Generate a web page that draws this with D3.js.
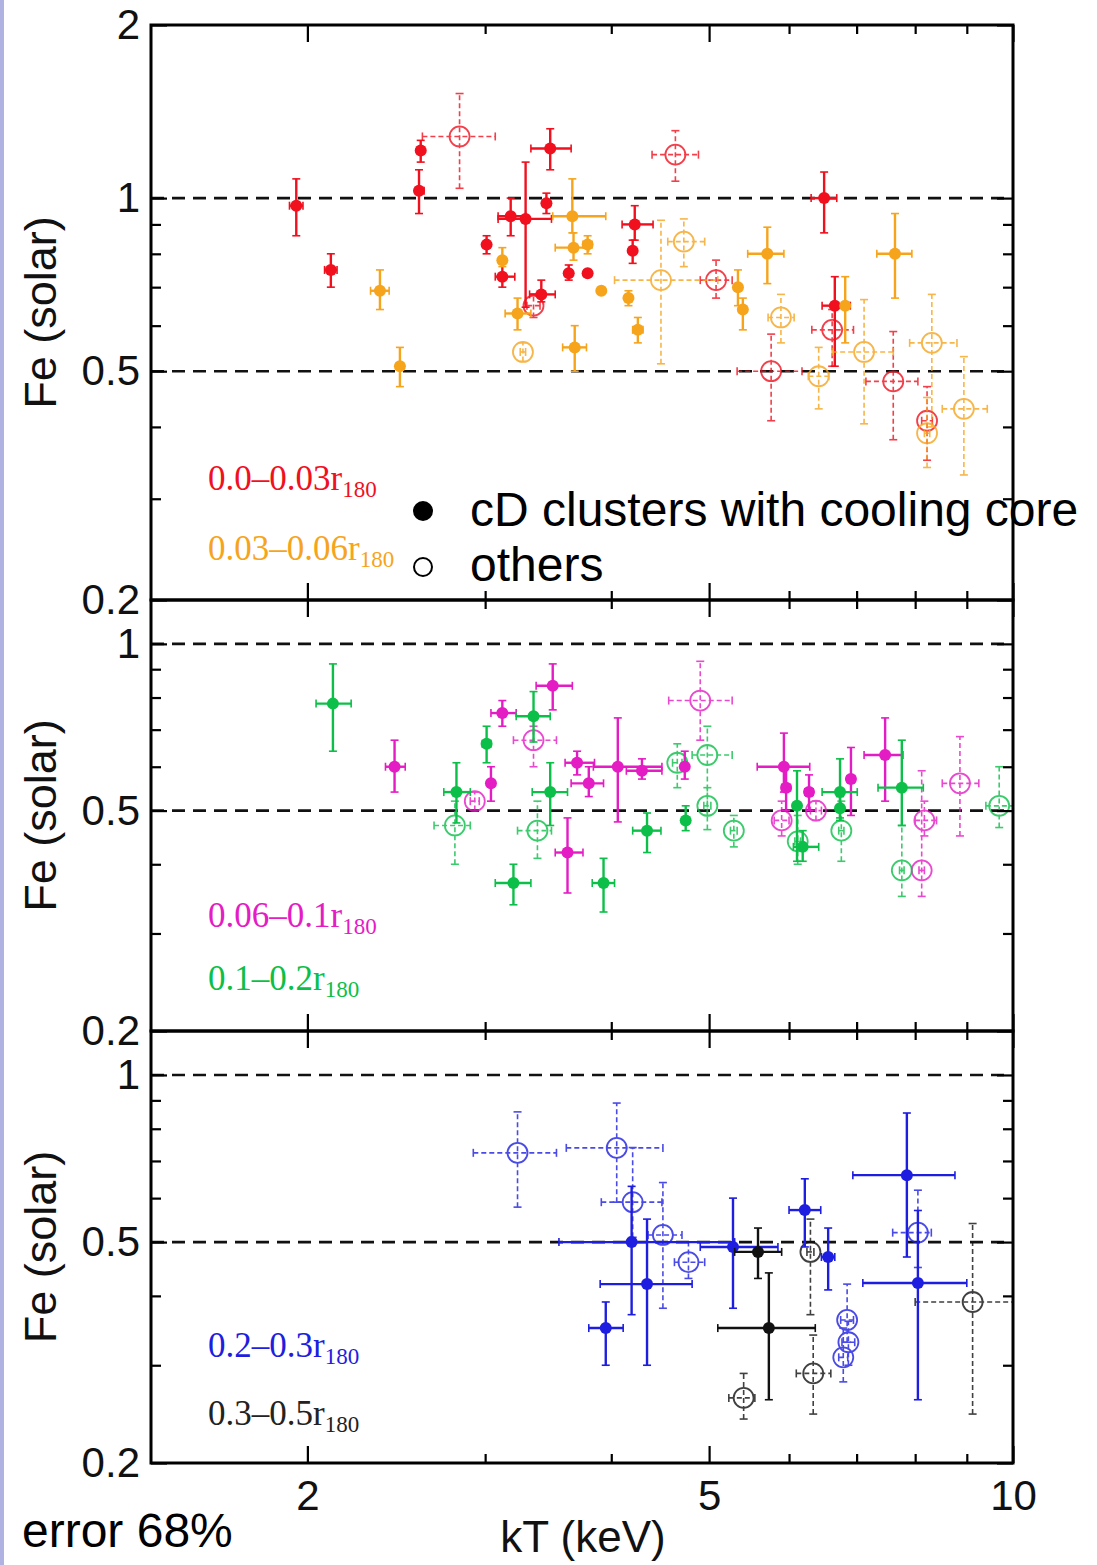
<!DOCTYPE html>
<html><head><meta charset="utf-8">
<script src="https://cdn.jsdelivr.net/npm/d3@7"></script>
<style>body{margin:0;background:#fff}svg{display:block}</style>
</head><body>
<svg id="c" width="1097" height="1565"></svg>
<script>
// ---------- DATA: [kT, kTmin, kTmax, Fe, FeMin, FeMax] ----------
const red_cD = [
 [1.95,1.92,1.98,0.97,0.86,1.08],[2.11,2.08,2.14,0.75,0.70,0.80],[2.58,2.56,2.61,1.03,0.94,1.12],
 [2.59,2.57,2.61,1.21,1.155,1.26],[3.48,3.33,3.65,1.22,1.12,1.32],[3.01,2.99,3.03,0.83,0.80,0.86],
 [3.18,3.09,3.29,0.93,0.86,1.00],[3.29,3.09,3.49,0.92,0.646,1.155],[3.45,3.43,3.47,0.98,0.94,1.02],
 [3.12,3.07,3.21,0.73,0.70,0.77],[3.41,3.32,3.52,0.68,0.66,0.72],[3.63,3.61,3.65,0.74,0.72,0.765],
 [3.79,3.79,3.79,0.74,0.74,0.74],[4.22,4.10,4.40,0.90,0.845,0.97],[4.20,4.18,4.22,0.81,0.77,0.845],
 [6.50,6.31,6.69,1.00,0.87,1.11],[6.66,6.47,6.90,0.65,0.51,0.73]
];
const red_other = [
 [2.83,2.60,3.07,1.28,1.04,1.52],[3.35,3.30,3.40,0.65,0.62,0.68],[5.08,4.90,5.27,0.72,0.67,0.78],
 [4.63,4.39,4.88,1.19,1.07,1.31],[6.62,6.32,6.95,0.59,0.51,0.64],[5.76,5.33,6.18,0.50,0.41,0.58],
 [7.61,7.15,8.05,0.48,0.38,0.586],[8.22,8.12,8.32,0.41,0.35,0.47]
];
const orange_cD = [
 [2.36,2.31,2.41,0.69,0.64,0.75],[2.47,2.45,2.49,0.51,0.47,0.55],[3.12,3.10,3.14,0.78,0.76,0.82],
 [3.23,3.14,3.33,0.63,0.59,0.67],[3.66,3.50,3.95,0.93,0.87,1.08],[3.67,3.52,3.80,0.82,0.78,0.87],
 [3.79,3.75,3.83,0.83,0.80,0.86],[3.68,3.58,3.78,0.55,0.50,0.60],[3.91,3.91,3.91,0.69,0.69,0.69],
 [4.16,4.14,4.18,0.67,0.65,0.69],[4.25,4.20,4.30,0.59,0.56,0.62],[5.34,5.30,5.38,0.70,0.65,0.75],
 [5.40,5.37,5.43,0.64,0.59,0.67],[5.71,5.46,5.93,0.80,0.71,0.89],[7.64,7.33,7.94,0.80,0.67,0.94],
 [6.82,6.80,6.84,0.65,0.56,0.73]
];
const orange_other = [
 [3.27,3.25,3.29,0.54,0.52,0.56],[4.48,4.03,5.10,0.72,0.515,0.915],[4.72,4.55,4.95,0.84,0.76,0.92],
 [5.89,5.72,6.07,0.62,0.56,0.68],[6.42,6.27,6.57,0.49,0.43,0.55],[7.12,6.62,7.61,0.54,0.405,0.666],
 [8.31,7.90,8.80,0.56,0.40,0.68],[8.94,8.51,9.43,0.43,0.33,0.53],[8.22,8.17,8.27,0.39,0.34,0.45]
];
const magenta_cD = [
 [2.44,2.39,2.50,0.60,0.54,0.67],[3.04,3.02,3.06,0.56,0.52,0.60],[3.12,3.04,3.22,0.75,0.71,0.79],
 [3.50,3.37,3.66,0.84,0.76,0.92],[3.62,3.52,3.75,0.42,0.355,0.485],[3.70,3.60,3.85,0.61,0.58,0.64],
 [3.80,3.65,3.93,0.56,0.53,0.60],[4.06,3.84,4.49,0.60,0.477,0.735],[4.29,4.14,4.49,0.59,0.57,0.62],
 [4.73,4.70,4.76,0.60,0.57,0.64],[5.93,5.58,6.29,0.60,0.54,0.69],[5.96,5.90,6.02,0.55,0.50,0.60],
 [6.28,6.22,6.34,0.54,0.50,0.58],[6.91,6.85,6.97,0.57,0.49,0.65],[7.47,7.12,7.78,0.63,0.52,0.735]
];
const magenta_other = [
 [2.93,2.90,2.96,0.52,0.50,0.54],[3.35,3.20,3.53,0.67,0.60,0.71],[4.90,4.56,5.27,0.79,0.67,0.93],
 [8.86,8.51,9.25,0.56,0.45,0.68],[8.12,8.07,8.17,0.39,0.35,0.59],[8.17,8.00,8.40,0.48,0.45,0.52],
 [5.90,5.80,6.00,0.48,0.45,0.52],[6.38,6.30,6.46,0.50,0.48,0.52]
];
const green_cD = [
 [2.12,2.04,2.21,0.78,0.64,0.92],[2.81,2.73,2.90,0.54,0.475,0.61],[3.01,2.98,3.04,0.66,0.61,0.71],
 [3.35,3.22,3.48,0.74,0.665,0.82],[3.48,3.34,3.62,0.54,0.47,0.61],[3.20,3.07,3.33,0.37,0.338,0.40],
 [3.93,3.83,4.03,0.37,0.328,0.41],[4.34,4.20,4.48,0.46,0.42,0.495],[4.74,4.71,4.77,0.48,0.46,0.51],
 [6.11,6.08,6.14,0.51,0.405,0.59],[6.19,6.06,6.42,0.43,0.405,0.46],[6.74,6.47,7.01,0.54,0.485,0.62],
 [6.74,6.71,6.77,0.505,0.48,0.53],[7.76,7.35,8.15,0.55,0.47,0.67]
];
const green_other = [
 [2.80,2.67,2.90,0.47,0.40,0.52],[3.38,3.23,3.49,0.46,0.41,0.52],[4.98,4.81,5.27,0.63,0.462,0.71],
 [4.98,4.94,5.02,0.51,0.49,0.55],[4.65,4.60,4.70,0.61,0.55,0.66],[5.29,5.25,5.33,0.46,0.43,0.49],
 [6.76,6.72,6.80,0.46,0.405,0.52],[6.12,6.08,6.16,0.44,0.40,0.49],[7.76,7.72,7.80,0.39,0.35,0.47],
 [9.69,9.40,10.0,0.51,0.466,0.60]
];
const blue_cD = [
 [3.95,3.80,4.11,0.35,0.30,0.39],[4.19,3.55,5.30,0.50,0.37,0.63],[4.34,3.90,4.81,0.42,0.30,0.55],
 [5.28,4.90,5.85,0.49,0.38,0.60],[6.22,6.00,6.45,0.571,0.49,0.65],[6.56,6.46,6.66,0.47,0.41,0.53],
 [7.85,6.94,8.76,0.66,0.47,0.854],[8.05,7.10,9.00,0.422,0.26,0.57]
];
const blue_other = [
 [3.23,2.92,3.53,0.724,0.578,0.858],[4.05,3.61,4.50,0.739,0.59,0.89],[4.20,3.91,4.49,0.59,0.51,0.74],
 [4.50,4.35,4.70,0.515,0.38,0.64],[4.77,4.62,4.95,0.46,0.43,0.50],[6.85,6.75,6.95,0.362,0.33,0.42],
 [6.87,6.77,6.97,0.33,0.30,0.36],[6.79,6.72,6.86,0.31,0.28,0.35],[8.05,7.60,8.30,0.52,0.45,0.62]
];
const black_cD = [[5.59,5.30,5.90,0.48,0.43,0.53],[5.73,5.10,6.37,0.35,0.26,0.44]];
const black_other = [
 [5.41,5.23,5.55,0.262,0.24,0.29],[6.34,6.10,6.60,0.29,0.245,0.34],[6.30,6.25,6.35,0.48,0.37,0.55],
 [9.12,8.00,10.0,0.39,0.245,0.54]
];
const xMajorTicks = [2,5,10];
const xMinorTicks = [3,4,6,7,8,9];
const yMinorTicks = [0.3,0.4,0.6,0.7,0.8,0.9];
const refLines = [1,0.5];
const regionLabels = [["0.0–0.03r","180"],["0.03–0.06r","180"],["0.06–0.1r","180"],["0.1–0.2r","180"],["0.2–0.3r","180"],["0.3–0.5r","180"]];
const legendLabels = ["cD clusters with cooling core","others"];
const xTitle = "kT (keV)", yTitle = "Fe (solar)", errNote = "error 68%";

// ---------- DRAWING ----------
const C = {red:"#f0101e", orange:"#f6a41c", magenta:"#e41cc4", green:"#0cbf48", blue:"#1e1ee0", black:"#111"};
const svg = d3.select("#c");
svg.append("rect").attr("x",0).attr("y",0).attr("width",4).attr("height",1565).attr("fill","#b0b2e2");

const x = d3.scaleLog().domain([1.4,10]).range([151,1013]);
const panels = [
  {dom:[0.2,2], rng:[600,25], major:[2,1,0.5,0.2], series:[[red_cD,C.red,true],[red_other,C.red,false],[orange_cD,C.orange,true],[orange_other,C.orange,false]],
   labels:[[0,C.red,490],[1,C.orange,560]]},
  {dom:[0.2,1.2], rng:[1031,600], major:[1,0.5,0.2], series:[[magenta_other,C.magenta,false],[green_other,C.green,false],[magenta_cD,C.magenta,true],[green_cD,C.green,true]],
   labels:[[2,C.magenta,927],[3,C.green,990]]},
  {dom:[0.2,1.2], rng:[1463,1031], major:[1,0.5,0.2], series:[[blue_other,C.blue,false],[black_other,C.black,false],[blue_cD,C.blue,true],[black_cD,C.black,true]],
   labels:[[4,C.blue,1357],[5,"#222",1425]]}
];
const font = "'Liberation Sans', Arial, sans-serif";

panels.forEach((p,pi)=>{
  const y = d3.scaleLog().domain(p.dom).range(p.rng);
  const g = svg.append("g");
  g.selectAll("line.ref").data(refLines).join("line")
    .attr("x1",151).attr("x2",1013).attr("y1",d=>y(d)).attr("y2",d=>y(d))
    .attr("stroke","#111").attr("stroke-width",2.6).attr("stroke-dasharray","13,8");
  p.series.forEach(([data,col,filled])=>{
    const s = g.append("g").attr("opacity", filled?1:0.8);
    const dash = filled?null:"5,3", sw = filled?2.4:1.6, cap=4;
    data.forEach(d=>{
      const cx=x(d[0]), cy=y(d[3]);
      const x0=x(d[1]), x1=x(d[2]), y0=y(d[4]), y1=y(d[5]);
      if (x1-x0>1){
        s.append("line").attr("x1",x0).attr("x2",x1).attr("y1",cy).attr("y2",cy)
          .attr("stroke",col).attr("stroke-width",sw).attr("stroke-dasharray",dash);
        [x0,x1].forEach(v=>s.append("line").attr("x1",v).attr("x2",v).attr("y1",cy-cap).attr("y2",cy+cap).attr("stroke",col).attr("stroke-width",1.6));
      }
      if (y0-y1>1){
        s.append("line").attr("x1",cx).attr("x2",cx).attr("y1",y0).attr("y2",y1)
          .attr("stroke",col).attr("stroke-width",sw).attr("stroke-dasharray",dash);
        [y0,y1].forEach(v=>s.append("line").attr("x1",cx-cap).attr("x2",cx+cap).attr("y1",v).attr("y2",v).attr("stroke",col).attr("stroke-width",1.6));
      }
      if (filled) s.append("circle").attr("cx",cx).attr("cy",cy).attr("r",6).attr("fill",col);
      else s.append("circle").attr("cx",cx).attr("cy",cy).attr("r",10).attr("fill","none").attr("stroke",col).attr("stroke-width",1.8);
    });
  });
  g.append("rect").attr("x",151).attr("y",p.rng[1]).attr("width",862).attr("height",p.rng[0]-p.rng[1])
    .attr("fill","none").attr("stroke","#000").attr("stroke-width",3);
  const styleAx = sel=>{sel.select(".domain").remove(); sel.selectAll(".tick line").attr("stroke","#000").attr("stroke-width",2.2);};
  g.append("g").attr("transform","translate(151,0)")
    .call(d3.axisLeft(y).tickValues(p.major).tickSize(-16).tickPadding(11).tickFormat(d3.format("")))
    .call(styleAx).call(a=>a.selectAll("text").attr("font-family",font).attr("font-size",42).attr("fill","#111"));
  g.append("g").attr("transform","translate(151,0)").call(d3.axisLeft(y).tickValues(yMinorTicks).tickSize(-10).tickFormat("")).call(styleAx);
  g.append("g").attr("transform","translate(1013,0)").call(d3.axisRight(y).tickValues(p.major).tickSize(-16).tickFormat("")).call(styleAx);
  g.append("g").attr("transform","translate(1013,0)").call(d3.axisRight(y).tickValues(yMinorTicks).tickSize(-10).tickFormat("")).call(styleAx);
  g.append("g").attr("transform",`translate(0,${p.rng[1]})`).call(d3.axisTop(x).tickValues(xMajorTicks).tickSize(-17).tickFormat("")).call(styleAx);
  g.append("g").attr("transform",`translate(0,${p.rng[1]})`).call(d3.axisTop(x).tickValues(xMinorTicks).tickSize(-9).tickFormat("")).call(styleAx);
  const bot = g.append("g").attr("transform",`translate(0,${p.rng[0]})`)
    .call(d3.axisBottom(x).tickValues(xMajorTicks).tickSize(-17).tickPadding(17).tickFormat(pi===2?d3.format(""):"")).call(styleAx);
  bot.selectAll("text").attr("font-family",font).attr("font-size",42).attr("fill","#111");
  g.append("g").attr("transform",`translate(0,${p.rng[0]})`).call(d3.axisBottom(x).tickValues(xMinorTicks).tickSize(-9).tickFormat("")).call(styleAx);
  const cy = (p.rng[0]+p.rng[1])/2;
  g.append("text").attr("transform",`translate(56,${cy}) rotate(-90)`).attr("text-anchor","middle")
    .attr("font-family",font).attr("font-size",45).attr("fill","#111").text(yTitle);
  p.labels.forEach(([li,col,by])=>{
    const t = g.append("text").attr("x",208).attr("y",by).attr("font-family","'Liberation Serif', 'Times New Roman', serif")
      .attr("font-size",35).attr("fill",col);
    t.append("tspan").text(regionLabels[li][0]);
    t.append("tspan").attr("font-size",23).attr("dy",7).text(regionLabels[li][1]);
  });
});

// legend
svg.append("circle").attr("cx",423).attr("cy",511).attr("r",10).attr("fill","#000");
svg.append("circle").attr("cx",423).attr("cy",567).attr("r",9).attr("fill","#fff").attr("stroke","#000").attr("stroke-width",2);
svg.append("text").attr("x",470).attr("y",526).attr("font-family",font).attr("font-size",48).attr("fill","#000").text(legendLabels[0]);
svg.append("text").attr("x",470).attr("y",581).attr("font-family",font).attr("font-size",48).attr("fill","#000").text(legendLabels[1]);
svg.append("text").attr("x",22).attr("y",1547).attr("font-family",font).attr("font-size",48).attr("fill","#000").text(errNote);
svg.append("text").attr("x",583).attr("y",1552).attr("text-anchor","middle").attr("font-family",font).attr("font-size",44).attr("fill","#111").text(xTitle);
</script>
</body></html>
